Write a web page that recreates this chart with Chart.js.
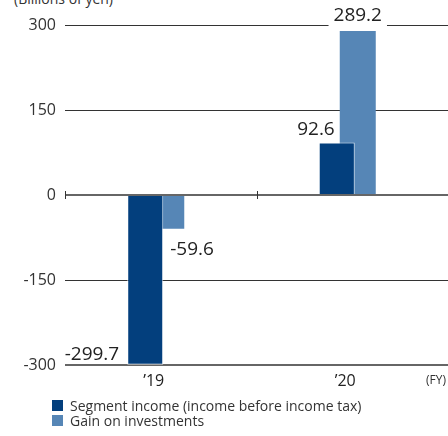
<!DOCTYPE html>
<html>
<head>
<meta charset="utf-8">
<script src="https://cdn.jsdelivr.net/npm/chart.js@4"></script>
<style>
  html, body { margin: 0; padding: 0; background: #fff; }
  body { width: 448px; height: 436px; position: relative; overflow: hidden; font-family: 'Open Sans', sans-serif; color: #333; }
  canvas { position: absolute; left: 0; top: 0; }
  .note { position: absolute; white-space: nowrap; }
  #unit { left: 14px; top: -11px; font-size: 14px; line-height: 19px; }
  #fy { right: 2px; top: 372px; font-size: 12px; line-height: 16px; }
  #legend { position: absolute; left: 52px; top: 398px; font-size: 14px; line-height: 15px; color: #333; }
  #legend .row { display: flex; align-items: center; white-space: nowrap; }
  #legend .box { width: 11px; height: 11px; margin-right: 7px; }
</style>
</head>
<body>
<div class="note" id="unit">(Billions of yen)</div>
<canvas id="chart" width="448" height="436"></canvas>
<div class="note" id="fy">(FY)</div>
<div id="legend"></div>
<script>
const years = ['\u201919', '\u201920'];
const segmentIncome = [-299.7, 92.6];
const gainOnInvestments = [-59.6, 289.2];
const seriesNames = ['Segment income (income before income tax)', 'Gain on investments'];
const yTicks = [-300, -150, 0, 150, 300];

const darkBlue = '#033f7d';
const lightBlue = '#5686b6';
const fontFamily = "'Open Sans', sans-serif";

// legend as two stacked rows, like the original
const legendEl = document.getElementById('legend');
[darkBlue, lightBlue].forEach((c, i) => {
  const row = document.createElement('div');
  row.className = 'row';
  const box = document.createElement('span');
  box.className = 'box';
  box.style.background = c;
  row.appendChild(box);
  row.appendChild(document.createTextNode(seriesNames[i]));
  legendEl.appendChild(row);
});

// value labels sit in different spots around each bar
const valueLabels = {
  id: 'valueLabels',
  afterDatasetsDraw(chart) {
    const ctx = chart.ctx;
    ctx.save();
    ctx.font = "19px " + fontFamily;
    ctx.fillStyle = '#222';
    ctx.textBaseline = 'alphabetic';
    chart.data.datasets.forEach((ds, di) => {
      chart.getDatasetMeta(di).data.forEach((bar, i) => {
        const v = ds.data[i];
        const text = v.toFixed(1);
        const half = bar.width / 2;
        let x, y;
        if (di === 0 && v < 0) {
          ctx.textAlign = 'right'; x = bar.x - half - 8; y = bar.y - 5;
        } else if (di === 0) {
          ctx.textAlign = 'right'; x = bar.x - 2; y = bar.y - 8;
        } else if (v < 0) {
          ctx.textAlign = 'left'; x = bar.x + 4; y = bar.y + 26;
        } else {
          ctx.textAlign = 'center'; x = bar.x; y = bar.y - 10;
          const w = ctx.measureText(text).width;
          ctx.fillStyle = '#fff';
          ctx.fillRect(x - w / 2 - 5, y - 16, w + 10, 22);
          ctx.fillStyle = '#222';
        }
        ctx.fillText(text, x, y);
      });
    });

    // small tick marks on the zero line at category edges
    const xs = chart.scales.x, ys = chart.scales.y;
    const y0 = ys.getPixelForValue(0);
    const step = xs.width / years.length;
    ctx.strokeStyle = '#333';
    ctx.lineWidth = 1;
    for (let i = 0; i <= years.length; i++) {
      const x = Math.round(xs.left + i * step) + 0.5;
      ctx.beginPath();
      ctx.moveTo(x, y0 - 4);
      ctx.lineTo(x, y0 + 4);
      ctx.stroke();
    }
    ctx.restore();
  }
};

new Chart(document.getElementById('chart').getContext('2d'), {
  type: 'bar',
  data: {
    labels: years,
    datasets: [{
      label: seriesNames[0],
      data: segmentIncome,
      backgroundColor: darkBlue,
      borderColor: 'rgba(255,255,255,0.75)',
      borderWidth: 1,
      borderSkipped: 'start',
      categoryPercentage: 0.324,
      barPercentage: 1.161
    }, {
      label: seriesNames[1],
      data: gainOnInvestments,
      backgroundColor: lightBlue,
      categoryPercentage: 0.115,
      barPercentage: 3.27
    }]
  },
  options: {
    responsive: false,
    animation: false,
    layout: { padding: { top: 25, right: 0, bottom: 46, left: 0 } },
    plugins: {
      legend: { display: false },
      tooltip: { enabled: false }
    },
    scales: {
      x: {
        grid: { display: false, drawTicks: false },
        border: { display: false },
        ticks: { color: '#222', font: { family: fontFamily, size: 16 }, padding: 7, labelOffset: -7 },
        afterFit: (s) => { s.height = 25; }
      },
      y: {
        min: -300,
        max: 300,
        afterBuildTicks: (s) => { s.ticks = yTicks.map((v) => ({ value: v })); },
        grid: {
          drawTicks: false,
          color: (c) => (c.tick && (c.tick.value === 0 || c.tick.value === -300)) ? '#666' : '#333',
          lineWidth: (c) => (c.tick && (c.tick.value === 0 || c.tick.value === -300)) ? 2 : 1
        },
        border: { display: false },
        ticks: { color: '#333', font: { family: fontFamily, size: 16 }, padding: 9 },
        afterFit: (s) => { s.width = 65; }
      }
    }
  },
  plugins: [valueLabels]
});
</script>
</body>
</html>
